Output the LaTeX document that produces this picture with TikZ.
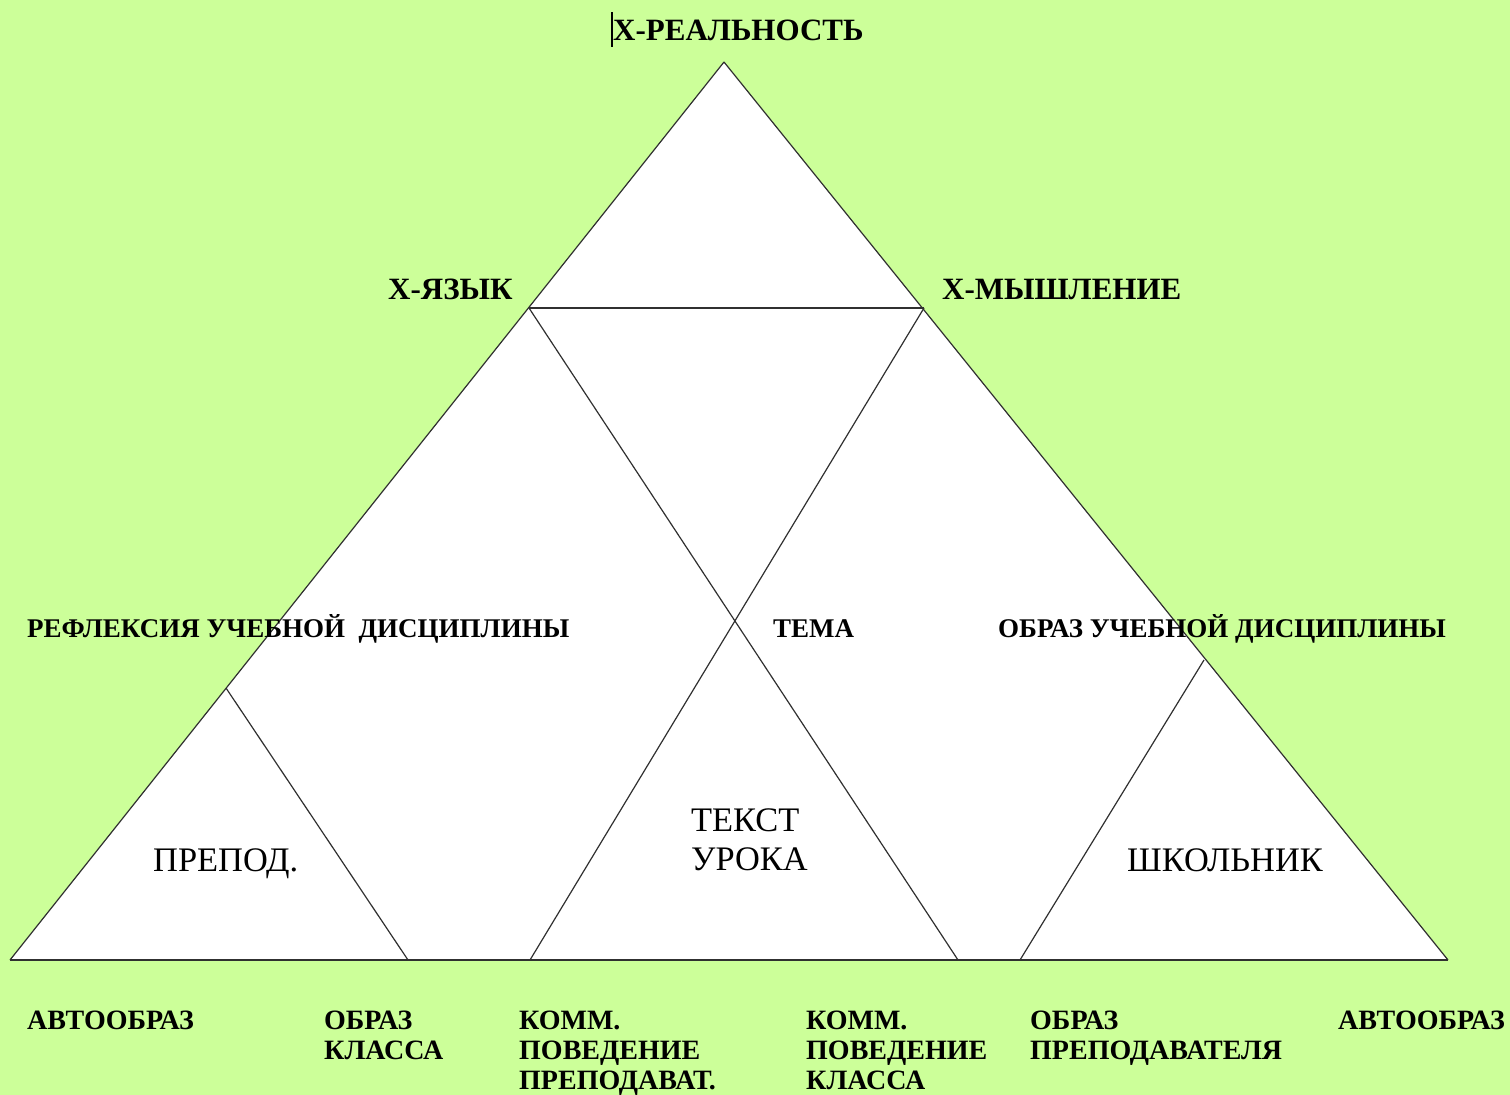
\documentclass[tikz,border=0pt]{standalone}
\usepackage{fontspec}
\setmainfont{Liberation Serif}
\definecolor{bg}{HTML}{CCFF99}
\definecolor{ln}{HTML}{303030}
\begin{document}
\begin{tikzpicture}[x=1pt,y=-1pt,
  edge/.style={draw=ln,line width=1.2pt},
  thick edge/.style={draw=ln,line width=1.8pt},
  tlab/.style={font=\fontsize{31}{34}\selectfont\bfseries,inner sep=0pt,anchor=base west},
  mlab/.style={font=\fontsize{27}{30}\selectfont\bfseries,inner sep=0pt,anchor=base west},
  slab/.style={font=\fontsize{28}{30}\selectfont\bfseries,inner sep=0pt,anchor=north west,align=left},
  rlab/.style={font=\fontsize{34.4}{39}\selectfont,inner sep=0pt,anchor=base west,align=left}]
\useasboundingbox (0,0) rectangle (1510,1095);
\fill[bg] (0,0) rectangle (1510,1095);
% vertices
\coordinate (A) at (724,62);
\coordinate (L) at (10,960);
\coordinate (R) at (1448,960);
\coordinate (P) at (529,308);
\coordinate (Q) at (924,308);
\coordinate (B1) at (958,960);
\coordinate (B2) at (530,960);
\coordinate (S1) at (226,688);
\coordinate (B3) at (408,960);
\coordinate (S2) at (1204,660);
\coordinate (B4) at (1020,960);
\coordinate (C1) at (612,12);
\coordinate (C2) at (612,47);
% big triangle
\fill[white] (A) -- (L) -- (R) -- cycle;
\draw[edge] (A) -- (L);
\draw[edge] (A) -- (R);
\draw[thick edge] (L) -- (R);
\draw[thick edge] (P) -- (Q);
\draw[edge] (P) -- (B1);
\draw[edge] (Q) -- (B2);
\draw[edge] (S1) -- (B3);
\draw[edge] (S2) -- (B4);
\draw[line width=1.5pt] (C1) -- (C2);
% labels
\node[tlab] (real) at (613,40) {X-РЕАЛЬНОСТЬ};
\node[tlab] (lang) at (388,299) {X-ЯЗЫК};
\node[tlab] (think) at (942,299) {X-МЫШЛЕНИЕ};
\node[mlab] (refl) at (27,637) {РЕФЛЕКСИЯ УЧЕБНОЙ \ ДИСЦИПЛИНЫ};
\node[mlab] (tema) at (773,637) {ТЕМА};
\node[mlab] (obraz) at (998,637) {ОБРАЗ УЧЕБНОЙ ДИСЦИПЛИНЫ};
\node[rlab] (prep) at (153,871) {ПРЕПОД.};
\node[rlab,anchor=north west] (text) at (691,809) {ТЕКСТ\\УРОКА};
\node[rlab] (shk) at (1127,871) {ШКОЛЬНИК};
\node[slab] (b1) at (27,1011) {АВТООБРАЗ};
\node[slab] (b2) at (324,1011) {ОБРАЗ\\КЛАССА};
\node[slab] (b3) at (519,1011) {КОММ.\\ПОВЕДЕНИЕ\\ПРЕПОДАВАТ.};
\node[slab] (b4) at (806,1011) {КОММ.\\ПОВЕДЕНИЕ\\КЛАССА};
\node[slab] (b5) at (1030,1011) {ОБРАЗ\\ПРЕПОДАВАТЕЛЯ};
\node[slab] (b6) at (1338,1011) {АВТООБРАЗ};
\end{tikzpicture}
\end{document}
